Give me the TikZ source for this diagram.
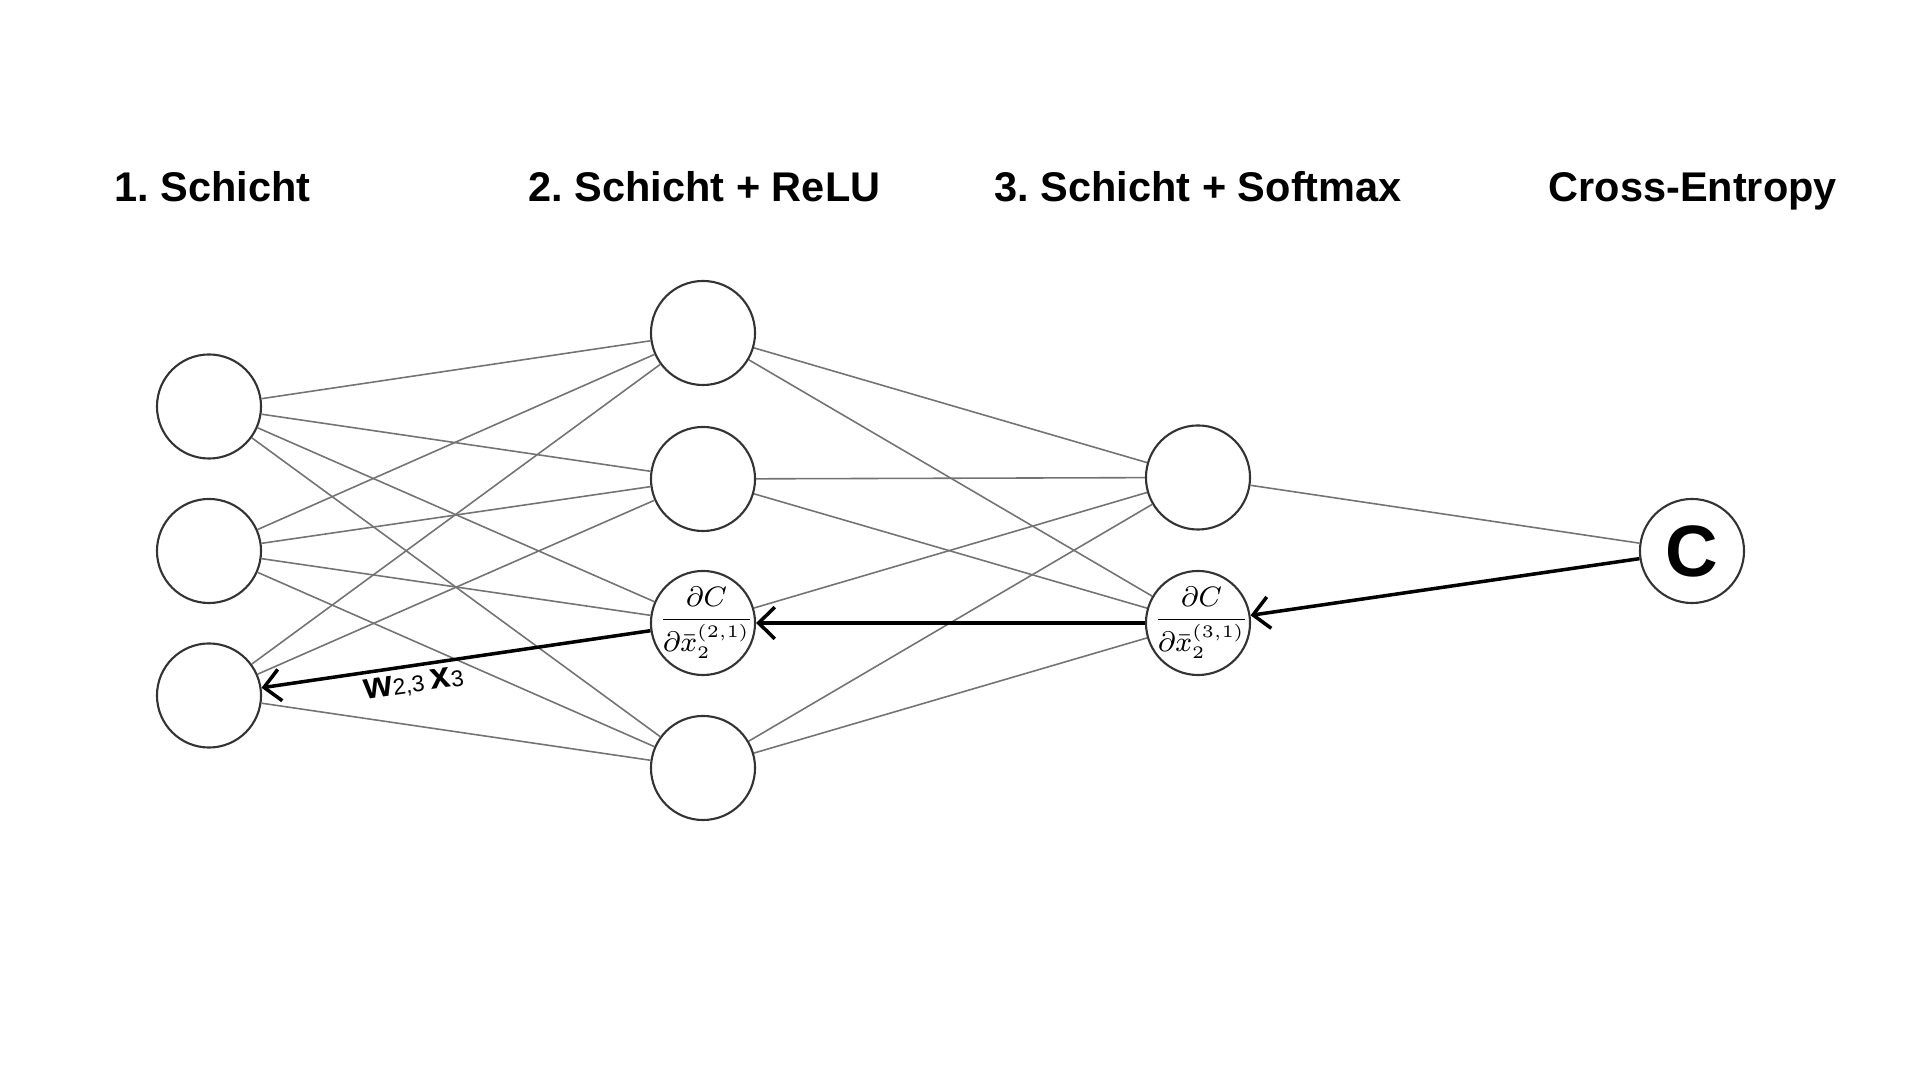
\documentclass[tikz,border=0pt]{standalone}
\usepackage{fontspec}
\setmainfont{Liberation Sans}
\usetikzlibrary{arrows.meta}
\frenchspacing
\begin{document}
\begin{tikzpicture}[x=0.01cm,y=-0.01cm,
  neuron/.style={circle,draw=black!80,line width=0.6pt,minimum size=1.04cm,inner sep=0pt},
  edge/.style={draw=black!55,line width=0.45pt},
  back/.style={draw=black,line width=1pt,-{Straight Barb[length=4.6pt,width=9pt]}},
  title/.style={font=\fontsize{11.8}{14}\selectfont\bfseries,anchor=base west,inner sep=0pt},
  fractext/.style={font=\fontsize{7.6}{9}\selectfont,inner sep=0pt}]
\path[use as bounding box] (0,0) rectangle (1920,1080);
% titles
\node[title] (t1) at (114,202) {1. Schicht};
\node[title] (t2) at (528,202) {2. Schicht + ReLU};
\node[title] (t3) at (994,202) {3. Schicht + Softmax};
\node[title] (t4) at (1548,202) {Cross-Entropy};
% layer 1
\node[neuron] (a1) at (209,406.5) {};
\node[neuron] (a2) at (209,551) {};
\node[neuron] (a3) at (209,695.5) {};
% layer 2
\node[neuron] (b1) at (703,333) {};
\node[neuron] (b2) at (703,479) {};
\node[neuron] (b3) at (703,623) {};
\node[fractext] (b3t) at ([xshift=1]b3.center) {$\displaystyle\frac{\partial C}{\partial\bar{x}_2^{(2,1)}}$};
\node[neuron] (b4) at (703,768) {};
% layer 3
\node[neuron] (c1) at (1198,477.5) {};
\node[neuron] (c2) at (1198,623) {};
\node[fractext] (c2t) at ([xshift=1]c2.center) {$\displaystyle\frac{\partial C}{\partial\bar{x}_2^{(3,1)}}$};
% cost
\node[neuron,font=\fontsize{20.7}{24}\selectfont\bfseries] (C) at (1692,551) {C};
% thin edges
\foreach \i in {a1,a2}{\foreach \j in {b1,b2,b3,b4}{\draw[edge] (\i) -- (\j);}}
\foreach \j in {b1,b2,b4}{\draw[edge] (a3) -- (\j);}
\foreach \i in {b1,b2,b4}{\foreach \j in {c1,c2}{\draw[edge] (\i) -- (\j);}}
\draw[edge] (b3) -- (c1);
\draw[edge] (c1) -- (C);
% backprop arrows
\draw[back] (C) -- (c2);
\draw[back] (c2) -- (b3);
\draw[back] (b3) -- (a3);
\node[rotate=8,inner sep=0pt] (lbl) at (414,684) {\fontsize{10.5}{12}\selectfont\bfseries w\mdseries\fontsize{6.5}{8}\selectfont 2,3 \fontsize{10.5}{12}\selectfont\bfseries x\mdseries\fontsize{6.5}{8}\selectfont 3};
\end{tikzpicture}
\end{document}
